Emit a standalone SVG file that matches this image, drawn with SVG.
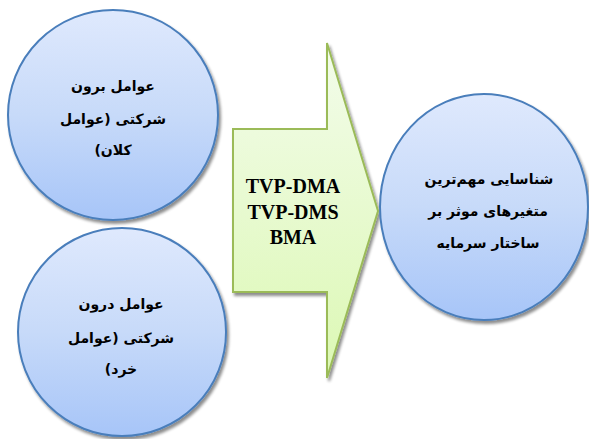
<svg xmlns="http://www.w3.org/2000/svg" width="589" height="439" viewBox="0 0 589 439">
<defs>
<linearGradient id="gBlue" x1="0" y1="0" x2="0" y2="1">
<stop offset="0" stop-color="#dfe9fd"/>
<stop offset="0.5" stop-color="#c7daf9"/>
<stop offset="1" stop-color="#a7c5f8"/>
</linearGradient>
<linearGradient id="gGreen" x1="0" y1="0" x2="0" y2="1">
<stop offset="0" stop-color="#f3fceb"/>
<stop offset="1" stop-color="#dcf8b4"/>
</linearGradient>
<filter id="sh" x="-10%" y="-10%" width="125%" height="125%">
<feGaussianBlur in="SourceAlpha" stdDeviation="1.5"/>
<feOffset dx="1.5" dy="3" result="b"/>
<feComponentTransfer><feFuncA type="linear" slope="0.45"/></feComponentTransfer>
<feMerge><feMergeNode/><feMergeNode in="SourceGraphic"/></feMerge>
</filter>
</defs>
<style>
.circ{fill:url(#gBlue);stroke:#4a7ebb;stroke-width:2;filter:url(#sh)}
.arrow{fill:url(#gGreen);stroke:#9bbb59;stroke-width:2;filter:url(#sh)}
.fa{font-family:"DejaVu Sans",sans-serif;font-weight:bold;font-size:14px;fill:#000;text-anchor:middle;direction:rtl}
.en{font-family:"Liberation Serif",serif;font-weight:bold;font-size:20px;fill:#000;text-anchor:middle}
</style>
<g id="connectors">
<g id="arrow">
<path class="arrow" d="M233,129 H327 V43 L378,211 L327,378 V292 H233 Z"/>
<text class="en" x="293" y="193">TVP-DMA</text>
<text class="en" x="293" y="219">TVP-DMS</text>
<text class="en" x="293" y="244">BMA</text>
</g>
</g>
<g id="node-macro">
<circle class="circ" cx="113" cy="115" r="105"/>
<text class="fa" x="113" y="91">عوامل برون</text>
<text class="fa" x="113" y="124">شرکتی (عوامل</text>
<text class="fa" x="113" y="155">کلان)</text>
</g>
<g id="node-micro">
<circle class="circ" cx="122" cy="332" r="104"/>
<text class="fa" x="121" y="309">عوامل درون</text>
<text class="fa" x="121" y="343">شرکتی (عوامل</text>
<text class="fa" x="121" y="374">خرد)</text>
</g>
<g id="node-target">
<ellipse class="circ" cx="484" cy="207" rx="104" ry="113"/>
<text class="fa" x="489" y="184">شناسایی مهم‌ترین</text>
<text class="fa" x="488" y="216">متغیرهای موثر بر</text>
<text class="fa" x="488" y="248">ساختار سرمایه</text>
</g>
</svg>
